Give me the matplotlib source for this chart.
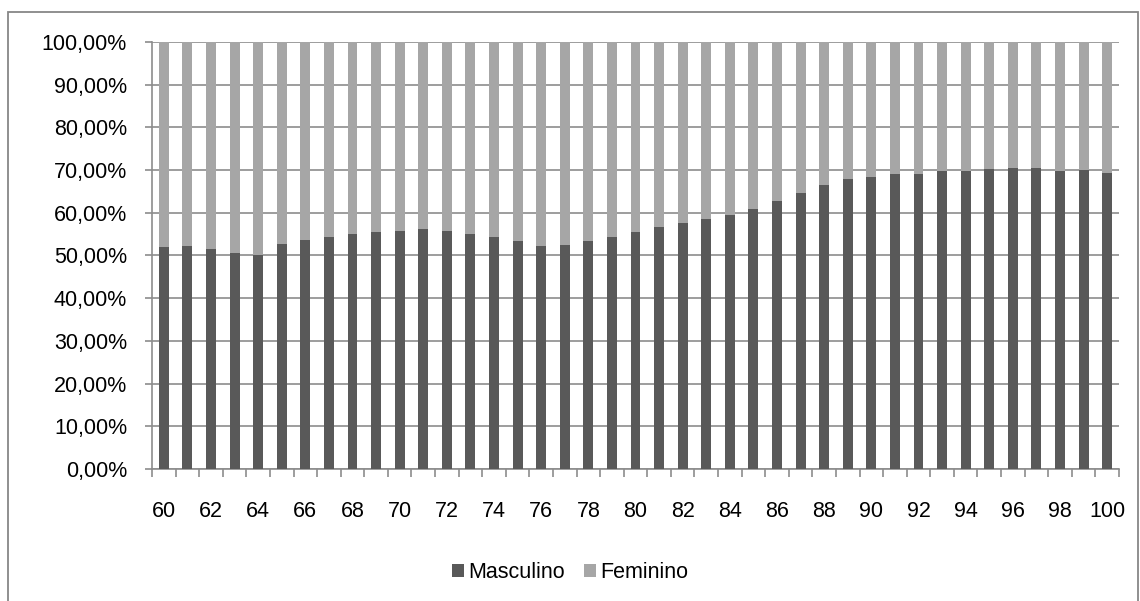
# Proporção por sexo segundo a idade (60 a 100 anos), barras 100% empilhadas.

import numpy as np
import matplotlib
matplotlib.use("Agg")
import matplotlib.pyplot as plt
from matplotlib.patches import Rectangle
from matplotlib.ticker import FuncFormatter, FixedLocator

plt.rcParams['font.family'] = ['Liberation Sans', 'DejaVu Sans']

# Data.
idades = list(range(60, 101))
masculino = [51.9, 52.2, 51.5, 50.7, 50.2, 52.7, 53.6, 54.4, 55.0, 55.5,
             55.7, 56.2, 55.7, 55.0, 54.3, 53.4, 52.2, 52.4, 53.4, 54.3,
             55.5, 56.6, 57.6, 58.5, 59.4, 60.8, 62.7, 64.7, 66.5, 67.9,
             68.5, 69.1, 69.2, 69.7, 69.9, 70.2, 70.6, 70.6, 69.9, 70.0,
             69.4]
feminino = [48.1, 47.8, 48.5, 49.3, 49.8, 47.3, 46.4, 45.6, 45.0, 44.5,
            44.3, 43.8, 44.3, 45.0, 45.7, 46.6, 47.8, 47.6, 46.6, 45.7,
            44.5, 43.4, 42.4, 41.5, 40.6, 39.2, 37.3, 35.3, 33.5, 32.1,
            31.5, 30.9, 30.8, 30.3, 30.1, 29.8, 29.4, 29.4, 30.1, 30.0,
            30.6]
y_ticks = [0, 10, 20, 30, 40, 50, 60, 70, 80, 90, 100]

DARK = '#595959'
LIGHT = '#a6a6a6'
GRID = '#8c8c8c'
FS = 15.5

fig = plt.figure(figsize=(11.40, 6.01), dpi=100)
ax = fig.add_axes([152 / 1140, 1 - 469 / 601, (1119 - 152) / 1140, (469 - 42) / 601])

x = np.arange(len(idades))
masc = np.array(masculino)
fem = np.array(feminino)
ax.bar(x, masc, width=0.42, color=DARK, label='Masculino', zorder=3)
ax.bar(x, fem, width=0.42, bottom=masc, color=LIGHT, label='Feminino', zorder=3)

ax.set_xlim(-0.5, len(idades) - 0.5)
ax.set_ylim(0, 100)

# y axis
ax.set_yticks(y_ticks)
ax.yaxis.set_major_formatter(
    FuncFormatter(lambda v, p: f"{v:.2f}%".replace('.', ',')))
ax.yaxis.grid(True, color=GRID, linewidth=1.2, zorder=0)
ax.tick_params(axis='y', length=5, width=1.2, color=GRID, pad=13,
               labelsize=FS)

# x axis: labels every two ages, ticks at category boundaries
ax.set_xticks(x[::2])
ax.set_xticklabels([str(a) for a in idades[::2]])
ax.xaxis.set_minor_locator(FixedLocator(np.arange(-0.5, len(idades), 1)))
ax.tick_params(axis='x', which='major', length=0, pad=23, labelsize=FS)
ax.tick_params(axis='x', which='minor', length=6, width=1.2, color=GRID)

for side in ['top', 'right']:
    ax.spines[side].set_visible(False)
for side in ['left', 'bottom']:
    ax.spines[side].set_color(GRID)
    ax.spines[side].set_linewidth(1.2)

ax.legend(loc='center', bbox_to_anchor=(0.5, 1 - 573 / 601),
          bbox_transform=fig.transFigure, ncol=2, frameon=False,
          fontsize=FS, handlelength=0.55, handleheight=0.55,
          handletextpad=0.2, columnspacing=0.9)

# outer chart border (bottom edge falls outside the canvas)
fig.patches.append(Rectangle((8 / 1140, -5 / 601), 1130 / 1140, 594 / 601,
                             transform=fig.transFigure, fill=False,
                             edgecolor='#878787', linewidth=1.3))

fig.savefig('out.png', dpi=100)
